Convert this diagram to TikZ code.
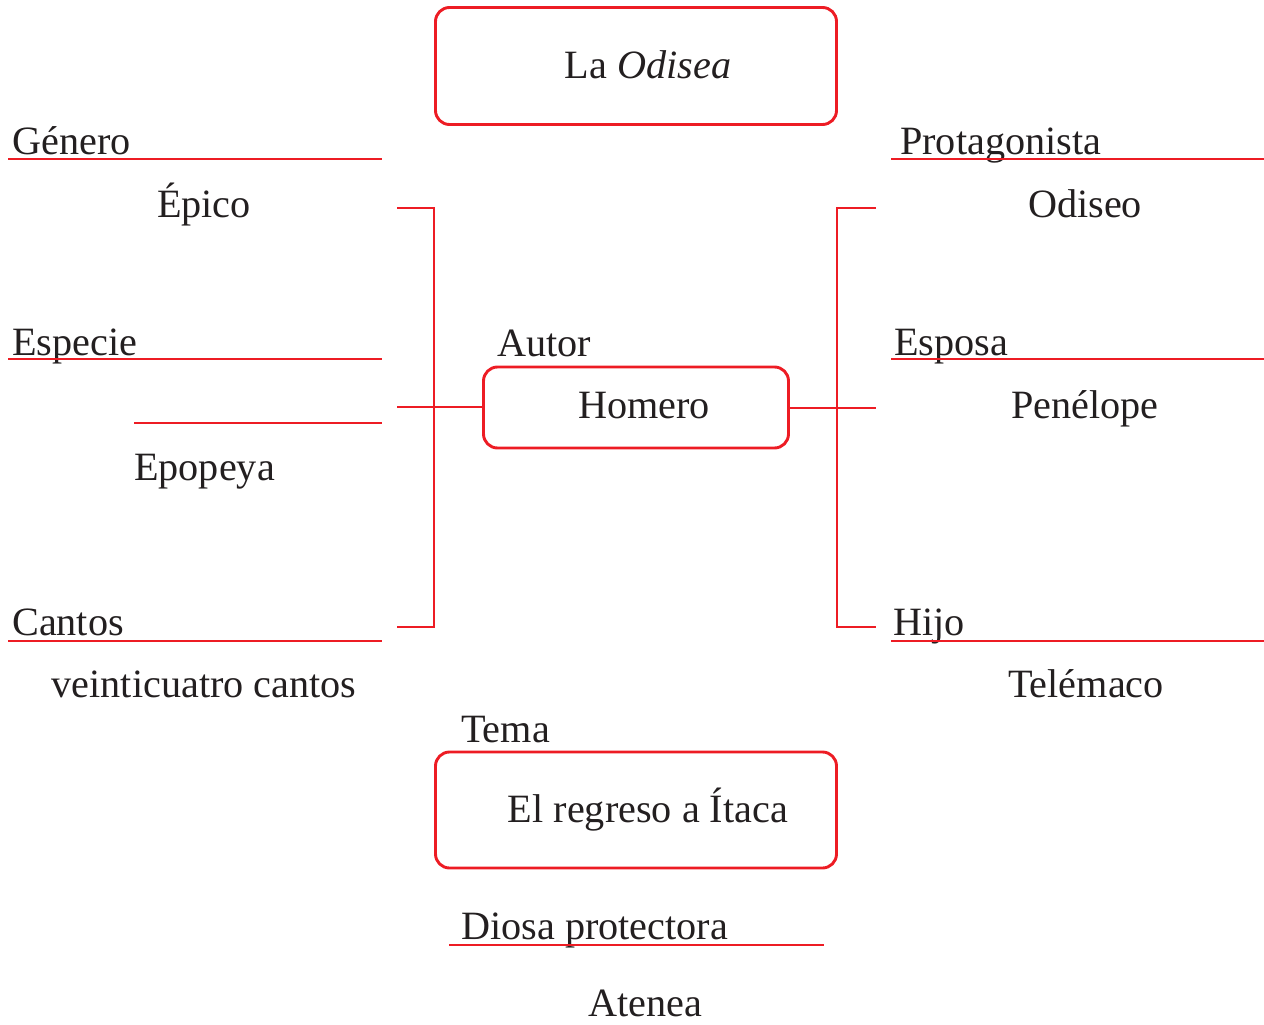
\documentclass[tikz,border=0pt]{standalone}
\usepackage{fontspec}
\setmainfont{Liberation Serif}
\definecolor{txt}{HTML}{231F20}
\definecolor{rd}{HTML}{ED1C24}
\begin{document}
\begin{tikzpicture}[x=1pt,y=-1pt,
  lbl/.style={inner sep=0pt, text=txt, font=\fontsize{40.2}{46}\selectfont},
  lw/.style={lbl, anchor=base west},
  lc/.style={lbl, anchor=base},
  box/.style={draw=rd, line width=2.9pt, rounded corners=14pt, inner sep=0pt},
  rule/.style={draw=rd, line width=2.5pt},
  conn/.style={draw=rd, line width=2.7pt}]
\useasboundingbox (0,0) rectangle (1264,1025);
% boxes
\node[box, minimum width=401pt, minimum height=117pt] (odisea) at (636,66) {};
\node[box, minimum width=305pt, minimum height=81pt] (homero) at (636,407.5) {};
\node[box, minimum width=401pt, minimum height=116pt] (tema) at (636,810) {};
% box texts
\node[lc] (tOdisea) at (648,78) {La \textit{Odisea}};
\node[lc] (tHomero) at (644,418) {Homero};
\node[lc] (tItaca) at (648,822) {El regreso a Ítaca};
% left labels
\node[lw] (genero) at (12,154) {Género};
\node[lc] (epico) at (204,217) {Épico};
\node[lw] (especie) at (12,355) {Especie};
\node[lw] (epopeya) at (134,480) {Epopeya};
\node[lw] (cantos) at (12,635) {Cantos};
\node[lc] (veinti) at (204,697) {veinticuatro cantos};
% right labels
\node[lw] (protag) at (900,154) {Protagonista};
\node[lc] (odiseo) at (1085,217) {Odiseo};
\node[lw] (esposa) at (894,355) {Esposa};
\node[lc] (penelope) at (1085,418) {Penélope};
\node[lw] (hijo) at (893,635) {Hijo};
\node[lc] (telemaco) at (1086,697) {Telémaco};
% center labels
\node[lw] (autor) at (497,356) {Autor};
\node[lw] (temalbl) at (461,742) {Tema};
\node[lw] (diosa) at (461,939) {Diosa protectora};
\node[lc] (atenea) at (645,1016) {Atenea};
% rules
\draw[rule] (8,159) -- (382,159);
\draw[rule] (8,359) -- (382,359);
\draw[rule] (134,423) -- (382,423);
\draw[rule] (8,641) -- (382,641);
\draw[rule] (891,159) -- (1264,159);
\draw[rule] (891,359) -- (1264,359);
\draw[rule] (891,641) -- (1264,641);
\draw[rule] (449,945) -- (824,945);
% brackets
\coordinate (lt) at (397,208);
\coordinate (lm) at (397,407);
\coordinate (lb) at (397,627);
\coordinate (rt) at (876,208);
\coordinate (rm) at (876,408);
\coordinate (rb) at (876,627);
\draw[conn] (lt) -- (434,208) -- (434,627) -- (lb);
\draw[conn] (lm) -- (homero.west |- lm);
\draw[conn] (rt) -- (837,208) -- (837,627) -- (rb);
\draw[conn] (homero.east |- rm) -- (rm);
\end{tikzpicture}
\end{document}
